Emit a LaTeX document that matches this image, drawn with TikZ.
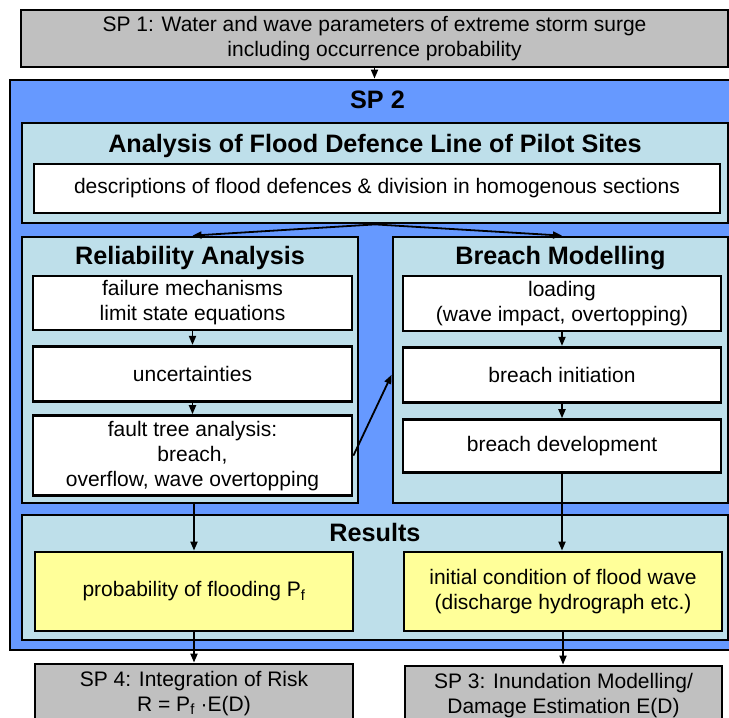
\documentclass[tikz,border=0pt]{standalone}
\usepackage{fontspec}
\setmainfont{Liberation Sans}
\usetikzlibrary{arrows.meta,positioning,calc}
\definecolor{spg}{RGB}{192,192,192}
\definecolor{spb}{RGB}{102,153,255}
\definecolor{pbg}{RGB}{190,223,234}
\definecolor{ylw}{RGB}{255,255,153}
\tikzset{
  spbox/.style={rectangle,draw=black,fill=spg,line width=2.8pt,align=center,
    font=\fontsize{21}{25}\selectfont,minimum width=#1,inner sep=2pt},
  spbox/.default=318pt,
  outer/.style={rectangle,draw=black,fill=spb,line width=2.8pt},
  pnl/.style={rectangle,draw=black,fill=pbg,line width=2.8pt,minimum width=#1},
  pnl/.default=336pt,
  wbox/.style={rectangle,draw=black,fill=white,line width=2.8pt,align=center,
    font=\fontsize{21}{25}\selectfont,minimum width=#1,inner sep=2pt},
  wbox/.default=319pt,
  ybox/.style={rectangle,draw=black,fill=ylw,line width=2.8pt,align=center,
    font=\fontsize{21}{25}\selectfont,minimum width=#1,inner sep=2pt},
  ybox/.default=318pt,
  ttl/.style={anchor=base,font=\fontsize{25.2}{29}\selectfont\bfseries,inner sep=0pt},
  arr/.style={-{Triangle[length=9pt,width=7pt]},line width=1.8pt},
}
\begin{document}
\begin{tikzpicture}[x=1pt,y=-1pt]
  \useasboundingbox (0,0) rectangle (729,718);

  % SP 1
  \node[spbox=707pt,minimum height=57pt] (sp1) at (374.5,38.5)
    {SP 1: Water and wave parameters of extreme storm surge\\including occurrence probability};

  % SP 2 frame
  \node[outer,minimum width=735pt,minimum height=570pt] (sp2) at (377.5,365) {};
  \node[ttl] (t2) at ($(sp2.north)+(0,30)$) {SP 2};
  \draw[arr] (sp1.south) -- (sp1.south |- sp2.north);

  % analysis of the defence line
  \node[pnl=706pt,minimum height=100pt] (an) at (375,173) {};
  \node[ttl] (tan) at ($(an.north)+(0,31)$) {Analysis of Flood Defence Line of Pilot Sites};
  \node[wbox=686pt,minimum height=49pt] (dd) at (377,188.5)
    {descriptions of flood defences \& division in homogenous sections};

  % reliability analysis
  \node[pnl,minimum height=266pt] (ra) at (190,370) {};
  \node[ttl] (tra) at ($(ra.north)+(0,29)$) {Reliability Analysis};
  \node[wbox,minimum height=54pt] (fm) at (192.5,303) {failure mechanisms\\limit state equations};
  \node[wbox,minimum height=55pt,below=13.5pt of fm] (un) {uncertainties};
  \node[wbox,minimum height=80pt,below=11.5pt of un] (ft)
    {fault tree analysis:\\breach,\\overflow, wave overtopping};

  % breach modelling
  \node[pnl=335pt,minimum height=266pt] (bm) at (560.5,370) {};
  \node[ttl] (tbm) at ($(bm.north)+(0,29)$) {Breach Modelling};
  \node[wbox=318pt,minimum height=55pt] (ld) at (562,303.5) {loading\\(wave impact, overtopping)};
  \node[wbox=318pt,minimum height=55pt,below=13.5pt of ld] (bi) {breach initiation};
  \node[wbox=318pt,minimum height=53pt,below=14.5pt of bi] (bd) {breach development};

  \draw[arr] (an.south) -- (ra.north -| fm.north);
  \draw[arr] (an.south) -- (bm.north -| ld.north);
  \draw[arr] (fm.south) -- (un.north);
  \draw[arr] (un.south) -- (ft.north);
  \draw[arr] (ld.south) -- (bi.north);
  \draw[arr] (bi.south) -- (bd.north);
  \draw[arr] (ft.east) -- (bm.west |- bi.west);

  % results
  \node[pnl=706pt,minimum height=125pt] (rs) at (375,577.5) {};
  \node[ttl] (trs) at ($(rs.north)+(0,28)$) {Results};
  \node[ybox,minimum height=79pt] (pf) at (194,591.5) {probability of flooding P\textsubscript{f}};
  \node[ybox,minimum height=79pt] (ic) at (563,591.5)
    {initial condition of flood wave\\(discharge hydrograph etc.)};

  \draw[arr] (ra.south -| pf.north) -- (pf.north);
  \draw[arr] (bd.south) -- (bd.south |- ic.north);

  % SP 4 and SP 3
  \node[spbox,minimum height=59pt] (sp4) at (194,693.5)
    {SP 4: Integration of Risk\\R = P\textsubscript{f} ·E(D)};
  \node[spbox=317pt,minimum height=59pt] (sp3) at (563.5,695.5)
    {SP 3: Inundation Modelling/\\Damage Estimation E(D)};

  \draw[arr] (pf.south) -- (sp4.north);
  \draw[arr] (ic.south) -- (ic.south |- sp3.north);
\end{tikzpicture}
\end{document}
